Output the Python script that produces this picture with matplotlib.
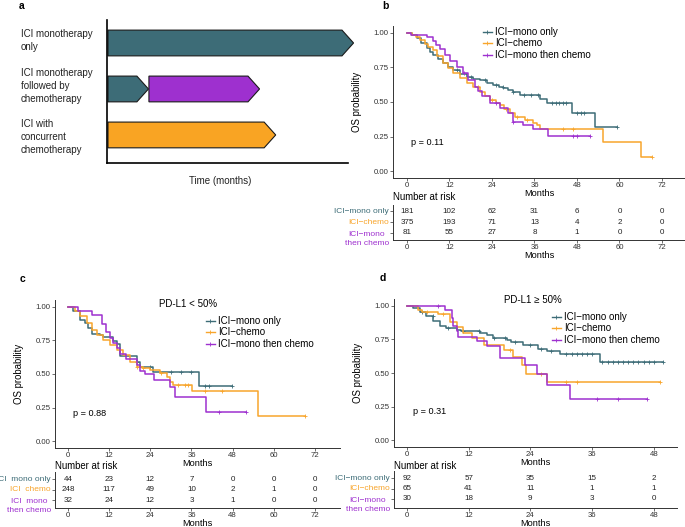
import numpy as np
import matplotlib
matplotlib.use("Agg")
import matplotlib.pyplot as plt
from matplotlib.patches import Polygon
from matplotlib.lines import Line2D
from matplotlib.transforms import blended_transform_factory

plt.rcParams['font.family'] = ['Liberation Sans', 'DejaVu Sans']

W, H = 685, 527
TEAL = '#3D6C77'
ORANGE = '#F8A52C'
PURPLE = '#9E30CF'
colors = [TEAL, ORANGE, PURPLE]

# ---- panel a: treatment schema
a_labels = ["ICI monotherapy\nonly", "ICI monotherapy\nfollowed by\nchemotherapy",
            "ICI with\nconcurrent\nchemotherapy"]
a_rows = [0, 1, 1, 2]
a_start = [0.4, 0.4, 17.4, 0.4]
a_end = [97.5, 12.4, 58.5, 65.2]
a_colors = [TEAL, TEAL, PURPLE, '#F9A423']

# ---- panel b: all patients
legend_names = ["ICI\u2212mono only", "ICI\u2212chemo", "ICI\u2212mono then chemo"]
b_t = [
    [0, 1.5, 2.7, 4, 5.6, 6.5, 7.4, 8.8, 10.2, 11.6, 13, 15, 16.9, 18.5, 20.6, 22.5, 24.3,
     26, 27.2, 28.6, 30, 32, 37.6, 39.5, 46.5, 53.1],
    [0, 1.5, 2.5, 3.7, 5, 6, 7.4, 8.5, 10.2, 11.5, 13, 15, 16.9, 18.5, 20.6, 22, 23.4, 25,
     26.3, 27.5, 29.1, 30.5, 33.3, 35.6, 36.6, 37.6, 55.4, 66.1],
    [0, 1.2, 5.6, 7.4, 8.3, 9.3, 10.7, 12.1, 14, 15.9, 17.3, 19.2, 20, 21.1, 23.4, 26.3,
     28.6, 30, 32.8, 35.6, 39.9],
]
b_s = [
    [1.0, .985, .96, .925, .89, .865, .84, .81, .78, .755, .73, .70, .68, .67, .66, .64, .62,
     .61, .60, .585, .57, .55, .52, .49, .42, .32],
    [1.0, .985, .97, .95, .92, .90, .877, .83, .78, .745, .71, .675, .64, .605, .575, .545,
     .515, .495, .478, .45, .42, .39, .37, .347, .33, .304, .212, .104],
    [1.0, .985, .97, .94, .91, .88, .84, .80, .756, .71, .66, .61, .58, .54, .49, .455, .42,
     .357, .333, .304, .256],
]
b_end = [59.2, 69.1, 51.7]
b_cens = [
    [14, 18, 22, 25, 27, 30, 33, 35, 37, 41, 42, 43, 44, 45, 48, 49, 50, 59.2],
    [20, 24, 28, 31, 34, 44, 47, 69.1],
    [16, 25, 30, 47, 48, 51.7],
]
b_risk = [[181, 102, 62, 31, 6, 0, 0], [375, 193, 71, 13, 4, 2, 0], [81, 55, 27, 8, 1, 0, 0]]

# ---- panel c: PD-L1 < 50%
c_t = [
    [0, 1.5, 3.5, 5, 5.9, 6.9, 9.3, 10.2, 13.1, 14.2, 15.2, 20, 21, 24.8, 38.3],
    [0, 2, 3.5, 5.4, 6.9, 8.4, 10.2, 12.2, 14.2, 16, 18, 20, 21.9, 23.9, 26.8, 28.8, 29.7,
     30.7, 36.1, 55.5],
    [0, 2.8, 6.9, 9.8, 11.2, 12.2, 13.2, 14.2, 15.2, 17, 20, 21, 22.5, 25, 29.8, 31.3, 40.1],
]
c_s = [
    [1.0, .965, .90, .88, .84, .80, .79, .775, .745, .72, .635, .59, .555, .513, .41],
    [1.0, .965, .93, .88, .83, .79, .755, .715, .68, .64, .59, .555, .545, .53, .507, .48,
     .44, .418, .373, .19],
    [1.0, .965, .94, .875, .81, .77, .73, .69, .645, .61, .57, .52, .50, .455, .405, .326, .219],
]
c_end = [47.7, 69.1, 51.9]
c_cens = [[20, 24, 30, 33, 36, 40, 41, 47.7], [20, 22, 27, 32, 34, 35, 40, 45, 69.1], [44, 51.9]]
c_risk = [[44, 23, 12, 7, 0, 0, 0], [248, 117, 49, 10, 2, 1, 0], [32, 24, 12, 3, 1, 0, 0]]
c_rowlabels = ["ICI  mono only", "ICI  chemo", "ICI  mono\nthen chemo"]

# ---- panel d: PD-L1 >= 50%
d_t = [
    [0, 1.2, 2.5, 3.8, 5.1, 6.4, 7.7, 9.7, 10.6, 14.2, 15.5, 16.7, 19.4, 20.3, 22.6, 25.5,
     27.2, 29.8, 37.5],
    [0, 2.1, 2.9, 6.1, 8.4, 9.7, 11, 12.6, 14.9, 18.8, 20.7, 22.3, 23.2, 27.2],
    [0, 7.4, 8.7, 9, 9.7, 10, 13.6, 15.5, 18.1, 23, 25.2, 27.2, 31.7],
]
d_s = [
    [1.0, .985, .957, .92, .883, .85, .834, .82, .81, .80, .784, .76, .746, .734, .71, .68,
     .66, .64, .585],
    [1.0, .97, .95, .94, .88, .845, .795, .76, .705, .67, .62, .56, .49, .435],
    [1.0, .97, .91, .85, .815, .765, .735, .70, .615, .56, .49, .41, .31],
]
d_end = [49.8, 49.2, 46.6]
d_cens = [
    [3, 5, 8, 11, 14, 17, 19, 21, 24, 26, 28, 31, 32, 33, 34, 35, 36, 38, 39, 40, 41, 42,
     43, 44, 45, 46, 47, 48, 49.8],
    [4, 7, 20, 26, 31, 33, 49.2],
    [6, 37, 41, 46.6],
]
d_risk = [[92, 57, 35, 15, 2], [65, 41, 11, 1, 1], [30, 18, 9, 3, 0]]

risk_labels = ["ICI\u2212mono only", "ICI\u2212chemo", "ICI\u2212mono\nthen chemo"]


def box(x0, y0, x1, y1):
    return [x0 / W, 1 - y1 / H, (x1 - x0) / W, (y1 - y0) / H]


def ftext(x, y, s, **kw):
    fig.text(x / W, 1 - y / H, s, **kw)


def style(ax):
    for side in ['top', 'right']:
        ax.spines[side].set_visible(False)
    for side in ['left', 'bottom']:
        ax.spines[side].set_linewidth(0.7)
        ax.spines[side].set_color('#333333')
    ax.tick_params(length=2, width=0.5, color='#333333', labelsize=5.6,
                   labelcolor='#333333', pad=1)


def km_panel(rect, ts, ss, ends, cens, xmax, xlim):
    ax = fig.add_axes(box(*rect))
    style(ax)
    for t, s, e, cz, col in zip(ts, ss, ends, cens, colors):
        ax.step(list(t) + [e], list(s) + [s[-1]], where='post', color=col, lw=1.1)
        idx = np.searchsorted(t, cz, side='right') - 1
        ax.plot(cz, np.array(s)[idx], ls='none', marker='+', ms=3, mew=0.6, color=col)
    ax.set_xlim(*xlim)
    ax.set_ylim(-0.05, 1.05)
    ax.set_xticks(np.arange(0, xmax + 1, 12))
    ax.set_yticks([0, 0.25, 0.5, 0.75, 1.0])
    ax.set_yticklabels(['0.00', '0.25', '0.50', '0.75', '1.00'])
    ax.set_xlabel('Months', fontsize=6.6, labelpad=0)
    return ax


def legend(ax, x, y):
    handles = [Line2D([], [], color=c, lw=1.0, marker='+', ms=3, mew=0.6) for c in colors]
    ax.legend(handles, legend_names, loc='upper left', bbox_to_anchor=(x / W, 1 - y / H),
              bbox_transform=fig.transFigure, frameon=False, fontsize=7,
              handlelength=0.9, handletextpad=0.35, labelspacing=0.15,
              borderpad=0, borderaxespad=0)


def risk_table(rect, risk, xmax, xlim, ylim, labels):
    ax = fig.add_axes(box(*rect))
    style(ax)
    times = np.arange(0, xmax + 1, 12)
    for r, row in enumerate(risk):
        for t, n in zip(times, row):
            ax.text(t, r, str(n), ha='center', va='center', fontsize=5.8, color='#222222')
    ax.set_xlim(*xlim)
    ax.set_ylim(*ylim)
    ax.set_xticks(times)
    ax.set_yticks([0, 1, 2])
    ax.set_yticklabels([])
    ax.set_xlabel('Months', fontsize=6.6, labelpad=0)
    tr = blended_transform_factory(ax.transAxes, ax.transData)
    for r, (lab, col) in enumerate(zip(labels, colors)):
        off = 0.55 if '\n' in lab else 0
        ax.text(-0.014, r + off, lab, transform=tr, ha='right', va='center',
                multialignment='center', fontsize=6, color=col, linespacing=1.3)
    return ax


fig = plt.figure(figsize=(W / 100, H / 100), dpi=100)

# panel a
axa = fig.add_axes(box(107, 20, 348, 163))
for side in ['top', 'right']:
    axa.spines[side].set_visible(False)
for side in ['left', 'bottom']:
    axa.spines[side].set_linewidth(1.2)
axa.set_xticks([])
axa.set_yticks([])
axa.set_xlim(0, 100)
axa.set_ylim(2.61, -0.5)
tip, hh = 4.8, 0.28
for r, x0, x1, col in zip(a_rows, a_start, a_end, a_colors):
    pts = [(x0, r - hh), (x1, r - hh), (x1 + tip, r), (x1, r + hh), (x0, r + hh)]
    axa.add_patch(Polygon(pts, closed=True, facecolor=col, edgecolor='#1a1a1a',
                          lw=0.8, clip_on=False))
for y, lab in zip([40.5, 86, 137], a_labels):
    ftext(21, y, lab, fontsize=7, va='center', ha='left', linespacing=1.35, color='#222222')
ftext(220, 181, 'Time (months)', fontsize=7, ha='center', va='center', color='#222222')

# panel b
axb = km_panel((393, 26, 685, 178), b_t, b_s, b_end, b_cens, 72, (-3.95, 78.5))
legend(axb, 483, 27)
risk_table((393, 205, 685, 240), b_risk, 72, (-3.95, 78.5), (2.64, -0.55), risk_labels)
ftext(357, 102, 'OS probability', rotation=90, fontsize=6.9, ha='center', va='center')
ftext(411, 142, 'p = 0.11', fontsize=6.6, va='center')
ftext(393, 197, 'Number at risk', fontsize=6.9, va='center')

# panel c
axc = km_panel((55, 300, 340, 448), c_t, c_s, c_end, c_cens, 72, (-3.8, 79.3))
legend(axc, 206, 316)
risk_table((55, 472, 340, 508), c_risk, 72, (-3.8, 79.3), (2.76, -0.67), c_rowlabels)
ftext(19, 374, 'OS probability', rotation=90, fontsize=6.9, ha='center', va='center')
ftext(73, 413, 'p = 0.88', fontsize=6.6, va='center')
ftext(55, 466, 'Number at risk', fontsize=6.9, va='center')
ftext(188, 304, 'PD-L1 < 50%', fontsize=7, ha='center', va='center')

# panel d
axd = km_panel((394, 299, 677, 447), d_t, d_s, d_end, d_cens, 48, (-2.5, 52.5))
legend(axd, 552, 312)
risk_table((394, 471, 677, 508), d_risk, 48, (-2.5, 52.5), (2.86, -0.67), risk_labels)
ftext(358, 373, 'OS probability', rotation=90, fontsize=6.9, ha='center', va='center')
ftext(413, 412, 'p = 0.31', fontsize=6.6, va='center')
ftext(394, 466, 'Number at risk', fontsize=6.9, va='center')
ftext(533, 300, 'PD-L1 \u2265 50%', fontsize=7, ha='center', va='center')

# panel letters
for x, y, s in [(22, 6, 'a'), (385, 6, 'b'), (23, 279, 'c'), (383, 278, 'd')]:
    ftext(x, y, s, fontsize=7.5, fontweight='bold', ha='center', va='center')

fig.savefig('out.png', dpi=100)
